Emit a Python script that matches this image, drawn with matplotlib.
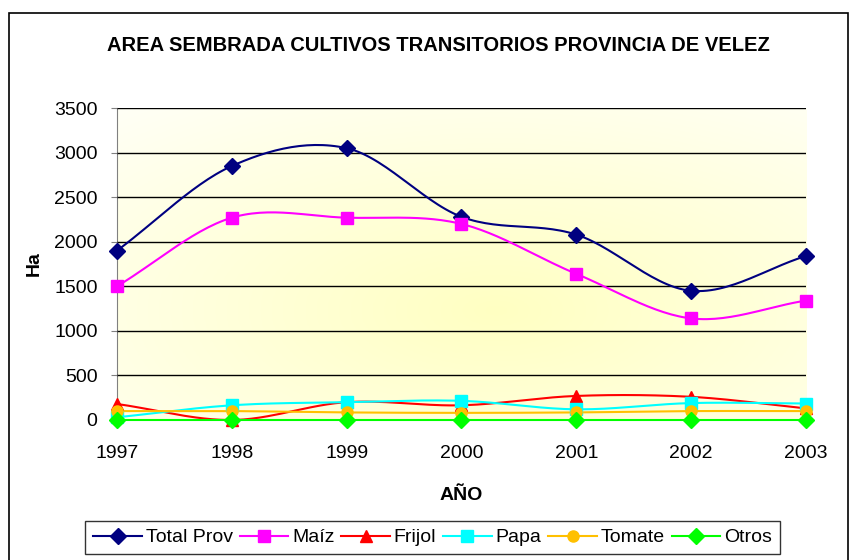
import numpy as np
import matplotlib
matplotlib.use("Agg")
import matplotlib.pyplot as plt
from matplotlib.colors import to_rgb
from matplotlib.patches import Rectangle

plt.rcParams['font.family'] = ['Liberation Sans', 'DejaVu Sans']

years = [1997, 1998, 1999, 2000, 2001, 2002, 2003]
total_prov = [1900, 2850, 3050, 2280, 2080, 1450, 1840]
maiz = [1500, 2270, 2270, 2200, 1640, 1140, 1340]
frijol = [180, 0, 200, 165, 270, 260, 130]
papa = [30, 165, 200, 215, 120, 190, 185]
tomate = [100, 100, 85, 80, 85, 100, 100]
otros = [0, 0, 0, 0, 0, 0, 0]

series = [
    ("Total Prov", total_prov, "#000080", "D", 8),
    ("Maíz", maiz, "#FF00FF", "s", 8),
    ("Frijol", frijol, "#FF0000", "^", 9),
    ("Papa", papa, "#00FFFF", "s", 8),
    ("Tomate", tomate, "#FFC000", "o", 8),
    ("Otros", otros, "#00FF00", "D", 8),
]


def smooth(x, y, n=30):
    # Catmull-Rom curve, close to Excel's "smoothed line"
    x = np.asarray(x, float)
    y = np.asarray(y, float)
    px = np.concatenate([[2 * x[0] - x[1]], x, [2 * x[-1] - x[-2]]])
    py = np.concatenate([[2 * y[0] - y[1]], y, [2 * y[-1] - y[-2]]])
    xs, ys = [], []
    t = np.linspace(0, 1, n)
    for i in range(1, len(px) - 2):
        for p, out in ((px, xs), (py, ys)):
            p0, p1, p2, p3 = p[i - 1], p[i], p[i + 1], p[i + 2]
            out.extend(0.5 * (2 * p1 + (-p0 + p2) * t
                              + (2 * p0 - 5 * p1 + 4 * p2 - p3) * t ** 2
                              + (-p0 + 3 * p1 - 3 * p2 + p3) * t ** 3))
    return xs, ys


fig = plt.figure(figsize=(8.5, 5.6), dpi=100)
fig.patches.append(Rectangle((0.011, -0.01), 0.987, 0.987, transform=fig.transFigure,
                             fill=False, edgecolor="black", linewidth=1.2))

ax = fig.add_axes([0.1376, 0.25, 0.8106, 0.557])

# yellow gradient background of the plot area
gx, gy = np.meshgrid(np.linspace(0, 1, 200), np.linspace(0, 1, 200))
d = np.sqrt(((gx - 0.55) / 0.9) ** 2 + ((gy - 0.35) / 0.9) ** 2)
d = np.clip(d / d.max(), 0, 1)
c_in = np.array(to_rgb("#FFFFC2"))
c_out = np.array(to_rgb("#FFFFF6"))
img = c_in[None, None, :] * (1 - d[..., None]) + c_out[None, None, :] * d[..., None]
ax.imshow(img, extent=[0, 1, 0, 1], transform=ax.transAxes, origin="lower",
          aspect="auto", zorder=0)

for label, vals, color, marker, ms in series:
    sx, sy = smooth(years, vals)
    ax.plot(sx, sy, color=color, lw=1.5, zorder=3, clip_on=False)
    ax.plot(years, vals, linestyle="none", marker=marker, color=color, ms=ms,
            zorder=4, clip_on=False)

ax.set_xlim(1997, 2003)
ax.set_ylim(0, 3500)
ax.set_yticks(range(0, 3501, 500))
ax.set_xticks(years)
ax.yaxis.grid(True, color="black", lw=1.0)
ax.set_axisbelow(False)
for s in ["top", "right", "bottom"]:
    ax.spines[s].set_visible(False)
ax.spines["left"].set_color("#808080")
ax.tick_params(axis="y", length=4, pad=10, labelsize=14, color="#808080")
ax.tick_params(axis="x", length=0, pad=18, labelsize=14)

ax.set_ylabel("Ha", fontsize=14, fontweight="bold", labelpad=8)
ax.set_xlabel("AÑO", fontsize=14, fontweight="bold", labelpad=18)
fig.text(0.516, 0.918, "AREA SEMBRADA CULTIVOS TRANSITORIOS PROVINCIA DE VELEZ",
         ha="center", va="center", fontsize=14.5, fontweight="bold")

handles = [plt.Line2D([], [], color=c, marker=m, ms=ms, lw=1.5)
           for _, _, c, m, ms in series]
leg = fig.legend(handles, [s[0] for s in series], loc="center",
                 bbox_to_anchor=(0.509, 0.04), ncol=6, fontsize=14, frameon=True,
                 fancybox=False, edgecolor="black", handlelength=2.5,
                 handletextpad=0.2, columnspacing=0.35, borderpad=0.4)
leg.get_frame().set_linewidth(1.0)

fig.savefig("out.png", dpi=100)
